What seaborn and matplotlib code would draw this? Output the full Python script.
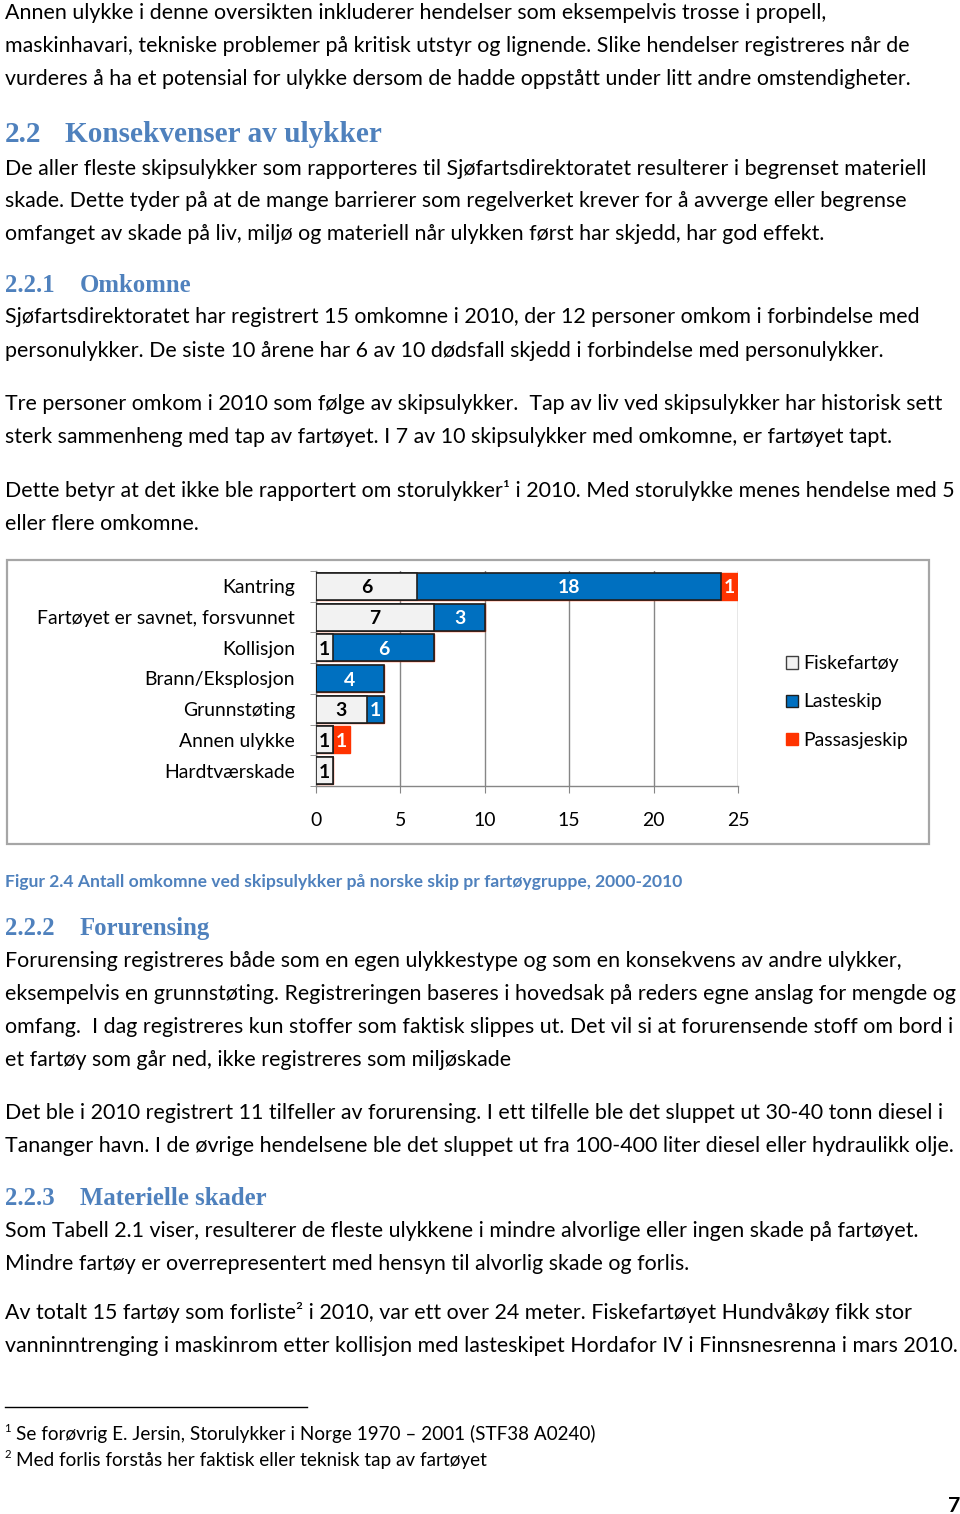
import numpy as np
import pandas as pd
import matplotlib
matplotlib.use('Agg')
import matplotlib.pyplot as plt
import seaborn as sns
from matplotlib.patches import Patch, Rectangle
from matplotlib.lines import Line2D

# data til figur 2.4
kategorier = ['Kantring', 'Fartøyet er savnet, forsvunnet', 'Kollisjon',
              'Brann/Eksplosjon', 'Grunnstøting', 'Annen ulykke', 'Hardtværskade']
fiskefartoy = [6, 7, 1, 0, 3, 1, 1]
lasteskip = [18, 3, 6, 4, 1, 0, 0]
passasjeskip = [1, 0, 0, 0, 0, 1, 0]
serier = ['Fiskefartøy', 'Lasteskip', 'Passasjeskip']
farger = ['#F2F2F2', '#0070C0', '#FF3300']
label_farger = ['black', 'white', 'white']
x_ticks = [0, 5, 10, 15, 20, 25]

# teksten på siden (baseline i px, tekst)
brodtekst = [
    (19, 'Annen ulykke i denne oversikten inkluderer hendelser som eksempelvis trosse i propell,'),
    (52, 'maskinhavari, tekniske problemer på kritisk utstyr og lignende. Slike hendelser registreres når de'),
    (85, 'vurderes å ha et potensial for ulykke dersom de hadde oppstått under litt andre omstendigheter.'),
    (175, 'De aller fleste skipsulykker som rapporteres til Sjøfartsdirektoratet resulterer i begrenset materiell'),
    (207, 'skade. Dette tyder på at de mange barrierer som regelverket krever for å avverge eller begrense'),
    (240, 'omfanget av skade på liv, miljø og materiell når ulykken først har skjedd, har god effekt.'),
    (323, 'Sjøfartsdirektoratet har registrert 15 omkomne i 2010, der 12 personer omkom i forbindelse med'),
    (357, 'personulykker. De siste 10 årene har 6 av 10 dødsfall skjedd i forbindelse med personulykker.'),
    (410, 'Tre personer omkom i 2010 som følge av skipsulykker.  Tap av liv ved skipsulykker har historisk sett'),
    (443, 'sterk sammenheng med tap av fartøyet. I 7 av 10 skipsulykker med omkomne, er fartøyet tapt.'),
    (497, 'Dette betyr at det ikke ble rapportert om storulykker¹ i 2010. Med storulykke menes hendelse med 5'),
    (530, 'eller flere omkomne.'),
    (967, 'Forurensing registreres både som en egen ulykkestype og som en konsekvens av andre ulykker,'),
    (1000, 'eksempelvis en grunnstøting. Registreringen baseres i hovedsak på reders egne anslag for mengde og'),
    (1033, 'omfang.  I dag registreres kun stoffer som faktisk slippes ut. Det vil si at forurensende stoff om bord i'),
    (1066, 'et fartøy som går ned, ikke registreres som miljøskade'),
    (1119, 'Det ble i 2010 registrert 11 tilfeller av forurensing. I ett tilfelle ble det sluppet ut 30-40 tonn diesel i'),
    (1152, 'Tananger havn. I de øvrige hendelsene ble det sluppet ut fra 100-400 liter diesel eller hydraulikk olje.'),
    (1237, 'Som Tabell 2.1 viser, resulterer de fleste ulykkene i mindre alvorlige eller ingen skade på fartøyet.'),
    (1270, 'Mindre fartøy er overrepresentert med hensyn til alvorlig skade og forlis.'),
    (1319, 'Av totalt 15 fartøy som forliste² i 2010, var ett over 24 meter. Fiskefartøyet Hundvåkøy fikk stor'),
    (1352, 'vanninntrenging i maskinrom etter kollisjon med lasteskipet Hordafor IV i Finnsnesrenna i mars 2010.'),
]
overskrifter = [
    (142, '2.2', 'Konsekvenser av ulykker', 2),
    (292, '2.2.1', 'Omkomne', 3),
    (935, '2.2.2', 'Forurensing', 3),
    (1205, '2.2.3', 'Materielle skader', 3),
]
figurtekst = 'Figur 2.4 Antall omkomne ved skipsulykker på norske skip pr fartøygruppe, 2000-2010'
fotnoter = [
    (1440, '1', 'Se forøvrig E. Jersin, Storulykker i Norge 1970 – 2001 (STF38 A0240)'),
    (1466, '2', 'Med forlis forstås her faktisk eller teknisk tap av fartøyet'),
]

W, H = 960, 1514
BLA = '#4F81BD'
SERIF = 'Liberation Serif'
fig = plt.figure(figsize=(W / 100, H / 100), dpi=100)
renderer = fig.canvas.get_renderer()


def fx(x):
    return x / W


def fy(y):
    return 1 - y / H


def tilpass(tekst, bredde, **kw):
    # finner fontstørrelse slik at teksten blir like bred som i originalen
    t = fig.text(0, 0, tekst, fontsize=10, **kw)
    w = t.get_window_extent(renderer).width
    t.remove()
    return 10 * bredde / w


body_size = tilpass(brodtekst[-1][1], 950, family='Lato')
h2_size = tilpass('Konsekvenser av ulykker', 318, family=SERIF, fontweight='bold')
h3_size = tilpass('Materielle skader', 188, family=SERIF, fontweight='bold')
cap_size = tilpass(figurtekst, 676, family='Lato', fontweight='bold')
fot_size = tilpass(fotnoter[0][2], 579, family='Lato')
chart_size = tilpass(kategorier[1], 258, family='Lato')

# brødtekst
for y, s in brodtekst:
    fig.text(fx(5), fy(y), s, family='Lato', fontsize=body_size, va='baseline', color='black')

# overskrifter
for y, nr, tittel, niva in overskrifter:
    size = h2_size if niva == 2 else h3_size
    x_tittel = 65 if niva == 2 else 80
    fig.text(fx(5), fy(y), nr, family=SERIF, fontweight='bold', fontsize=size,
             color=BLA, va='baseline')
    fig.text(fx(x_tittel), fy(y), tittel, family=SERIF, fontweight='bold',
             fontsize=size, color=BLA, va='baseline')

fig.text(fx(5), fy(887), figurtekst, family='Lato', fontweight='bold', fontsize=cap_size,
         color=BLA, va='baseline')

# fotnoter
fig.add_artist(Line2D([fx(5), fx(307)], [fy(1407), fy(1407)], color='black', lw=1,
                      transform=fig.transFigure))
for y, nr, s in fotnoter:
    fig.text(fx(4), fy(y - 8), nr, family='Lato', fontsize=fot_size * 0.6, va='baseline')
    fig.text(fx(16), fy(y), s, family='Lato', fontsize=fot_size, va='baseline')
fig.text(fx(960), fy(1512), '7', family='Lato', fontweight='bold', fontsize=body_size,
         ha='right', va='baseline')

# ramme rundt diagrammet
fig.add_artist(Rectangle((fx(7), fy(844)), fx(929) - fx(7), fy(560) - fy(844),
                         transform=fig.transFigure, fill=False, edgecolor='#A6A6A6',
                         lw=1.6, zorder=0))

# diagrammet
df = pd.DataFrame({'kategori': kategorier, 'Fiskefartøy': fiskefartoy,
                   'Lasteskip': lasteskip, 'Passasjeskip': passasjeskip})
df['kum_1'] = df['Fiskefartøy']
df['kum_2'] = df['kum_1'] + df['Lasteskip']
df['kum_3'] = df['kum_2'] + df['Passasjeskip']

ax = fig.add_axes([fx(316), fy(786), fx(738) - fx(316), fy(571) - fy(786)])
ax.patch.set_alpha(0)

# stablede søyler: tegner kumulative summer oppå hverandre
sns.barplot(data=df, x='kum_3', y='kategori', orient='h', color=farger[2], saturation=1,
            edgecolor=farger[2], linewidth=1, width=0.88, ax=ax, zorder=2)
sns.barplot(data=df, x='kum_2', y='kategori', orient='h', color=farger[1], saturation=1,
            edgecolor='#1F1F1F', linewidth=1.2, width=0.88, ax=ax, zorder=3)
sns.barplot(data=df, x='kum_1', y='kategori', orient='h', color=farger[0], saturation=1,
            edgecolor='#1F1F1F', linewidth=1.2, width=0.88, ax=ax, zorder=4)

# verdier midt i hvert segment
for i, row in df.iterrows():
    start = 0
    for s, tc in zip(serier, label_farger):
        v = row[s]
        if v > 0:
            ax.text(start + v / 2, i + 0.05, str(v), ha='center', va='center', color=tc,
                    fontweight='bold', family='Lato', fontsize=chart_size, zorder=5)
        start += v

ax.set_xlim(0, 25)
ax.set_ylim(6.5, -0.5)
ax.set_xticks(x_ticks)
ax.set_xlabel('')
ax.set_ylabel('')
ax.set_axisbelow(True)
ax.xaxis.grid(True, color='#868686', lw=1)
ax.yaxis.grid(False)
for side in ['top', 'right']:
    ax.spines[side].set_visible(False)
for side in ['left', 'bottom']:
    ax.spines[side].set_color('#868686')
    ax.spines[side].set_linewidth(1)
ax.tick_params(axis='x', length=5, color='#868686', pad=13.5, labelsize=chart_size)
ax.tick_params(axis='y', length=0, pad=15, labelsize=chart_size)
ax.set_yticks(np.arange(-0.5, 7, 1), minor=True)
ax.tick_params(axis='y', which='minor', length=4, color='#868686')
for t in ax.get_xticklabels() + ax.get_yticklabels():
    t.set_family('Lato')

handles = [Patch(facecolor=farger[0], edgecolor='#404040', lw=1),
           Patch(facecolor=farger[1], edgecolor='#1F1F1F', lw=1),
           Patch(facecolor=farger[2], edgecolor=farger[2], lw=1)]
fig.legend(handles, serier, loc='center left', bbox_to_anchor=(fx(786), fy(702)),
           frameon=False, handlelength=0.6, handleheight=0.6, handletextpad=0.3,
           labelspacing=1.1, borderaxespad=0, borderpad=0,
           prop={'family': 'Lato', 'size': chart_size})

fig.savefig('out.png', dpi=100)
